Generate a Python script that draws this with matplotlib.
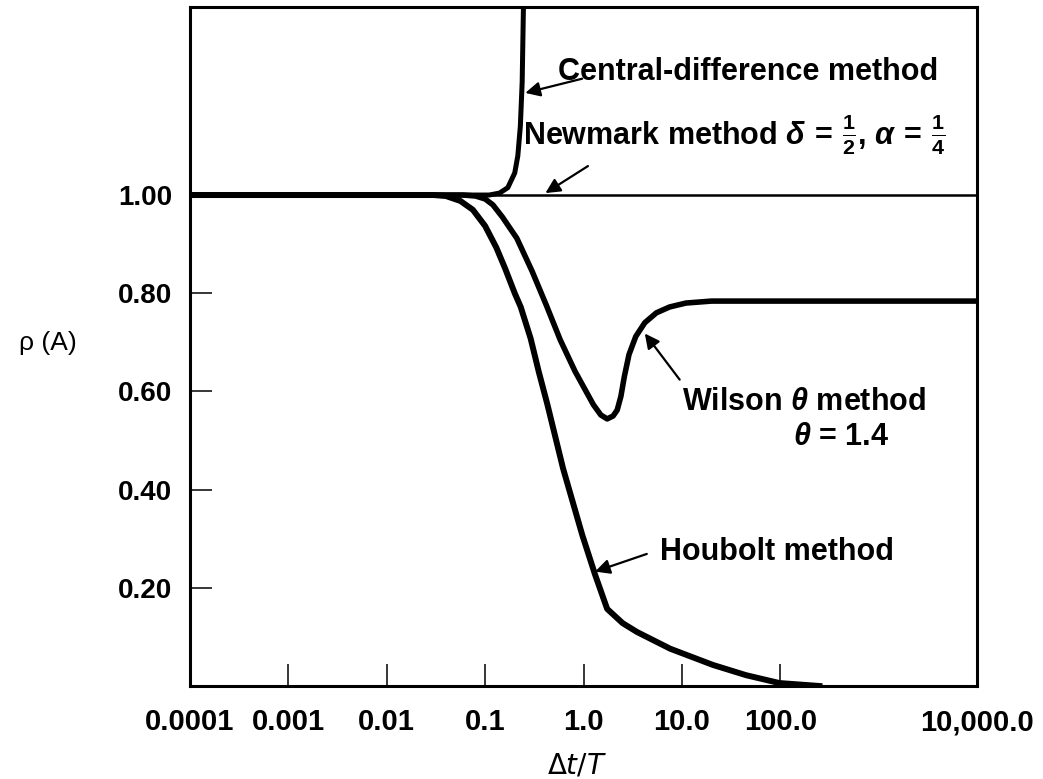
import matplotlib
matplotlib.use("Agg")
import matplotlib.pyplot as plt
from matplotlib import font_manager

# Espectro: radio espectral rho(A) vs dt/T
dt_T_ticks = [1e-4, 1e-3, 1e-2, 1e-1, 1.0, 10.0, 100.0, 1e4]
dt_T_labels = ['0.0001', '0.001', '0.01', '0.1', '1.0', '10.0', '100.0', '10,000.0']
rho_ticks = [0.2, 0.4, 0.6, 0.8, 1.0]
rho_labels = ['0.20', '0.40', '0.60', '0.80', '1.00']

newmark_x = [1e-4, 1e4]
newmark_y = [1.0, 1.0]

cd_x = [1e-4, 0.11, 0.14, 0.17, 0.2, 0.215, 0.228, 0.238, 0.246]
cd_y = [1.0, 1.0, 1.004, 1.015, 1.045, 1.08, 1.14, 1.23, 1.40]

wilson_x = [1e-4, 0.06, 0.08, 0.1, 0.12, 0.15, 0.21, 0.30, 0.42, 0.58, 0.82, 1.26,
            1.5, 1.74, 2.0, 2.2, 2.4, 2.6, 2.9, 3.4, 4.2, 5.5, 7.5, 11.0, 20.0, 1e4]
wilson_y = [1.0, 1.0, 0.998, 0.992, 0.98, 0.955, 0.912, 0.845, 0.775, 0.705, 0.641, 0.573,
            0.552, 0.544, 0.55, 0.562, 0.59, 0.63, 0.675, 0.712, 0.74, 0.76, 0.772, 0.78,
            0.784, 0.784]

houbolt_x = [1e-4, 0.03, 0.04, 0.056, 0.075, 0.1, 0.13, 0.16, 0.2, 0.23, 0.29, 0.35, 0.43,
             0.62, 0.97, 1.31, 1.74, 2.5, 3.5, 7.6, 20.6, 45.0, 98.0, 250.0]
houbolt_y = [1.0, 1.0, 0.998, 0.988, 0.97, 0.937, 0.893, 0.85, 0.80, 0.772, 0.708, 0.641,
             0.573, 0.443, 0.308, 0.227, 0.157, 0.128, 0.11, 0.076, 0.043, 0.022, 0.006, 0.0]

names = {f.name for f in font_manager.fontManager.ttflist}
base_font = 'Liberation Sans' if 'Liberation Sans' in names else 'DejaVu Sans'
plt.rcParams['font.family'] = [base_font, 'DejaVu Sans']
plt.rcParams['mathtext.fontset'] = 'custom'
plt.rcParams['mathtext.rm'] = base_font + ':bold'
plt.rcParams['mathtext.it'] = base_font + ':italic:bold'
plt.rcParams['mathtext.bf'] = base_font + ':bold'

fig = plt.figure(figsize=(10.43, 7.79), dpi=100)
ax = fig.add_axes([190 / 1043, 1 - 686 / 779, 787 / 1043, 679 / 779])

ax.plot(newmark_x, newmark_y, color='black', lw=1.8)
ax.plot(cd_x, cd_y, color='black', lw=3.6, solid_joinstyle='round')
ax.plot(wilson_x, wilson_y, color='black', lw=4.0, solid_joinstyle='round')
ax.plot(houbolt_x, houbolt_y, color='black', lw=4.3, solid_joinstyle='round')

ax.set_xscale('log')
ax.set_xlim(1e-4, 1e4)
ax.set_ylim(0, 1.383)

ax.set_xticks(dt_T_ticks)
ax.set_xticklabels(dt_T_labels, fontsize=21, fontweight='bold')
ax.xaxis.set_minor_locator(matplotlib.ticker.NullLocator())
ax.set_yticks(rho_ticks)
ax.set_yticklabels(rho_labels, fontsize=20, fontweight='bold')
ax.tick_params(axis='x', direction='in', length=16, width=1.1, pad=16)
ax.tick_params(axis='y', direction='in', length=16, width=1.1, pad=13)
xt = ax.xaxis.get_major_ticks()
xt[0].tick1line.set_visible(False)
xt[-1].tick1line.set_visible(False)
for s in ax.spines.values():
    s.set_linewidth(2.2)

fig.text(48 / 1043, 1 - 343 / 779, 'ρ (A)', fontsize=19, ha='center', va='center')
fig.text(577 / 1043, 1 - 766 / 779, r'$\Delta t/T$', fontsize=20, ha='center', va='center',
         math_fontfamily='dejavusans')

txt = dict(fontsize=22, ha='left', va='baseline', fontweight='bold')
ax.text(0.55, 1.234, 'Central-difference method', **txt)
ax.text(0.244, 1.102,
        r'Newmark method $\delta\,=\,\frac{1}{2}$, $\alpha\,=\,\frac{1}{4}$', **txt)
ax.text(10.0, 0.562, r'Wilson $\theta$ method', **txt)
ax.text(134.0, 0.491, r'$\theta$ = 1.4', **txt)
ax.text(5.98, 0.257, 'Houbolt method', **txt)

arr = dict(arrowstyle='-|>', color='black', lw=1.6, mutation_scale=22, shrinkA=0, shrinkB=0)
ax.annotate('', xy=(0.256, 1.208), xytext=(0.97, 1.237), arrowprops=arr)
ax.annotate('', xy=(0.41, 1.004), xytext=(1.11, 1.059), arrowprops=arr)
ax.annotate('', xy=(4.2, 0.718), xytext=(9.5, 0.624), arrowprops=arr)
ax.annotate('', xy=(1.31, 0.233), xytext=(4.4, 0.269), arrowprops=arr)

fig.savefig('out.png', dpi=100)
